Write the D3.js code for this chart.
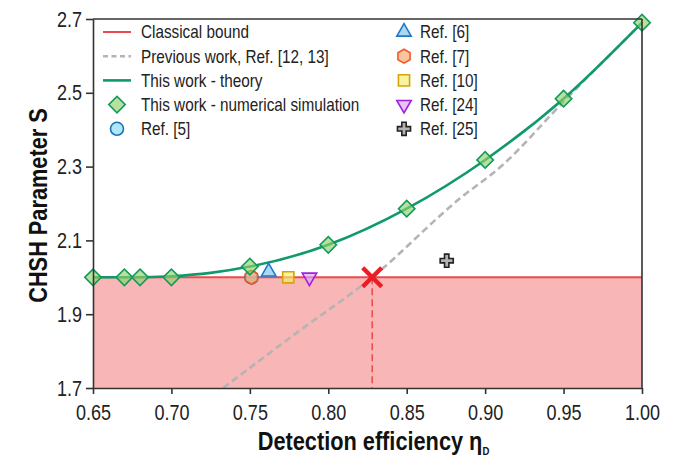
<!DOCTYPE html>
<html>
<head>
<meta charset="utf-8">
<script src="https://cdn.jsdelivr.net/npm/d3@7"></script>
<style>
  body { margin: 0; background: #fff; }
  text { font-family: 'Liberation Sans', Arial, sans-serif; }
</style>
</head>
<body>
<script>
// values
const xTicks = [0.65, 0.70, 0.75, 0.80, 0.85, 0.90, 0.95, 1.00];
const yTicks = [1.7, 1.9, 2.1, 2.3, 2.5, 2.7];

const classicalBound = 2.0;
const thresholdEta = 0.828;

const theoryEta = [0.65, 0.675, 0.70, 0.725, 0.75, 0.80, 0.85, 0.90, 0.95, 1.00];
const theoryS   = [2.0, 2.0, 2.003, 2.012, 2.029, 2.088, 2.186, 2.318, 2.484, 2.69];

const simEta = [0.65, 0.67, 0.68, 0.70, 0.75, 0.80, 0.85, 0.90, 0.95, 1.00];
const simS   = [2.0, 2.0, 2.0, 2.0, 2.029, 2.088, 2.186, 2.318, 2.484, 2.69];

const prevEta = [0.733, 0.78, 0.828, 0.884, 0.91, 0.95, 1.00];
const prevS   = [1.70, 1.85, 2.0, 2.214, 2.30, 2.476, 2.69];

const refNames = ["Ref. [5]", "Ref. [6]", "Ref. [7]", "Ref. [10]", "Ref. [24]", "Ref. [25]"];
const refEta   = [0.751, 0.762, 0.751, 0.7745, 0.788, 0.8755];
const refS     = [2.0, 2.015, 2.0, 2.0, 2.0, 2.045];

const size_graph = {x: 676, y: 460},
      margin = {top: 19, bot: 72, right: 34, left: 93 },
      width = size_graph.x - margin.left - margin.right,
      height = size_graph.y - margin.top - margin.bot;

// no condensed face installed, so squeeze the glyphs horizontally
const condTick = 0.82, condLeg = 0.85, condTitle = 0.87;

const x = d3.scaleLinear().domain([0.65, 1.0]).range([0, width]);
const y = d3.scaleLinear().domain([1.7, 2.7]).range([height, 0]);

const svg = d3.select("body").append("svg")
  .attr("width", size_graph.x)
  .attr("height", size_graph.y);

const g = svg.append("g").attr("transform", `translate(${margin.left},${margin.top})`);

g.append("clipPath").attr("id", "clip")
  .append("rect").attr("width", width).attr("height", height);

const plot = g.append("g").attr("clip-path", "url(#clip)");

// classical region
plot.append("rect")
  .attr("x", 0).attr("y", y(classicalBound))
  .attr("width", width).attr("height", y(1.7) - y(classicalBound))
  .style("fill", "#f9b6b6");

plot.append("line")
  .attr("x1", 0).attr("x2", width)
  .attr("y1", y(classicalBound)).attr("y2", y(classicalBound))
  .style("stroke", "#ea4a50").style("stroke-width", 2);

// threshold marker
plot.append("line")
  .attr("x1", x(thresholdEta)).attr("x2", x(thresholdEta))
  .attr("y1", y(classicalBound)).attr("y2", y(1.7))
  .style("stroke", "#ec4a4a").style("stroke-width", 1.5)
  .style("stroke-dasharray", "7,4");

const line = d3.line().x(d => x(d[0])).y(d => y(d[1])).curve(d3.curveMonotoneX);

plot.append("path")
  .datum(prevEta.map((e, i) => [e, prevS[i]]))
  .attr("d", line)
  .style("fill", "none").style("stroke", "#b4b4b4")
  .style("stroke-width", 2.6).style("stroke-dasharray", "7,4");

plot.append("path")
  .datum(theoryEta.map((e, i) => [e, theoryS[i]]))
  .attr("d", line)
  .style("fill", "none").style("stroke", "#0f9a6c")
  .style("stroke-width", 2.6);

// marker shapes
const hexPath = function (r) {
  let pts = d3.range(6).map(k => {
    let a = Math.PI / 2 + k * Math.PI / 3;
    return [r * Math.cos(a), -r * Math.sin(a)];
  });
  return "M" + pts.join("L") + "Z";
};

const styles = {
  sim:   {fill: "#8fd16a", stroke: "#12995c"},
  r5:    {fill: "#7fdcf7", stroke: "#1f6fb3"},
  r6:    {fill: "#7cc1ee", stroke: "#1f78c8"},
  r7:    {fill: "#f9a46a", stroke: "#f05a28"},
  r10:   {fill: "#f3ec6a", stroke: "#d4a40a"},
  r24:   {fill: "#d8a6f2", stroke: "#a020e0"},
  r25:   {fill: "#8a8a8a", stroke: "#222222"}
};

const drawMarker = function (sel, kind, cx, cy) {
  let st = styles[kind];
  let p;
  if (kind === "sim")
    p = sel.append("path").attr("d", d3.symbol(d3.symbolSquare, 135)())
      .attr("transform", `translate(${cx},${cy}) rotate(45)`);
  else if (kind === "r5")
    p = sel.append("circle").attr("cx", cx).attr("cy", cy).attr("r", 6.5);
  else if (kind === "r6")
    p = sel.append("path").attr("d", d3.symbol(d3.symbolTriangle, 90)())
      .attr("transform", `translate(${cx},${cy})`);
  else if (kind === "r7")
    p = sel.append("path").attr("d", hexPath(7))
      .attr("transform", `translate(${cx},${cy})`);
  else if (kind === "r10")
    p = sel.append("path").attr("d", d3.symbol(d3.symbolSquare, 125)())
      .attr("transform", `translate(${cx},${cy})`);
  else if (kind === "r24")
    p = sel.append("path").attr("d", d3.symbol(d3.symbolTriangle, 90)())
      .attr("transform", `translate(${cx},${cy}) rotate(180)`);
  else
    p = sel.append("path").attr("d", d3.symbol(d3.symbolCross, 95)())
      .attr("transform", `translate(${cx},${cy})`);
  p.style("fill", st.fill).style("fill-opacity", 0.65)
    .style("stroke", st.stroke).style("stroke-width", 1.6);
  return p;
};

const refKinds = ["r5", "r6", "r7", "r10", "r24", "r25"];

const marks = g.append("g");
refKinds.forEach((k, i) => drawMarker(marks, k, x(refEta[i]), y(refS[i])));
simEta.forEach((e, i) => drawMarker(marks, "sim", x(e), y(simS[i])));

// red cross at threshold
const cx = x(thresholdEta), cy = y(classicalBound);
g.append("path")
  .attr("d", `M${cx - 9.5},${cy - 9.5}L${cx + 9.5},${cy + 9.5}M${cx - 9.5},${cy + 9.5}L${cx + 9.5},${cy - 9.5}`)
  .style("stroke", "#ec1c24").style("stroke-width", 4.4).style("fill", "none");

// axes
const xAxis = d3.axisBottom(x).tickValues(xTicks).tickFormat(d3.format(".2f")).tickSize(6).tickSizeOuter(0);
const yAxis = d3.axisLeft(y).tickValues(yTicks).tickFormat(d3.format(".1f")).tickSize(7).tickSizeOuter(0);

const gx = g.append("g").attr("transform", `translate(0,${height})`).call(xAxis);
const gy = g.append("g").call(yAxis);

[gx, gy].forEach(a => {
  a.selectAll("path, line").style("stroke", "#333").style("stroke-width", 1.6);
  a.selectAll("text").style("font-size", "22px").style("fill", "#222")
    .attr("transform", `scale(${condTick},1)`);
});
gx.selectAll("text").attr("y", 16);
gy.selectAll("text").attr("x", -11 / condTick);

// frame top / right
g.append("line").attr("x1", 0).attr("x2", width).attr("y1", 0).attr("y2", 0)
  .style("stroke", "#333").style("stroke-width", 1.6);
g.append("line").attr("x1", width).attr("x2", width).attr("y1", 0).attr("y2", height)
  .style("stroke", "#333").style("stroke-width", 1.6);

// axis titles
const xt = svg.append("text")
  .attr("transform", `translate(${margin.left + width / 2 + 6},450) scale(${condTitle},1)`)
  .attr("text-anchor", "middle")
  .style("font-size", "25px").style("font-weight", "bold").style("fill", "#111");
xt.append("tspan").text("Detection efficiency η");
xt.append("tspan").text("D").attr("dy", 5).style("font-size", "11px");

svg.append("text")
  .attr("transform", `translate(47,${margin.top + height / 2 + 2}) rotate(-90) scale(${condTitle},1)`)
  .attr("text-anchor", "middle")
  .style("font-size", "25px").style("font-weight", "bold").style("fill", "#111")
  .text("CHSH Parameter S");

// legend
const leg = svg.append("g");
const rowY = i => 32 + 24.2 * i;
const leftItems = ["Classical bound", "Previous work, Ref. [12, 13]", "This work - theory",
  "This work - numerical simulation", refNames[0]];

leg.append("line").attr("x1", 103).attr("x2", 131).attr("y1", rowY(0)).attr("y2", rowY(0))
  .style("stroke", "#ea4a50").style("stroke-width", 2);
leg.append("line").attr("x1", 103).attr("x2", 131).attr("y1", rowY(1)).attr("y2", rowY(1))
  .style("stroke", "#b4b4b4").style("stroke-width", 2.6).style("stroke-dasharray", "5,3.5");
leg.append("line").attr("x1", 103).attr("x2", 131).attr("y1", rowY(2)).attr("y2", rowY(2))
  .style("stroke", "#0f9a6c").style("stroke-width", 2.6);
drawMarker(leg, "sim", 117, rowY(3));
drawMarker(leg, "r5", 117, rowY(4));

let legText = function (tx, ty, t) {
  leg.append("text")
    .attr("transform", `translate(${tx},${ty}) scale(${condLeg},1)`)
    .attr("dy", "0.35em")
    .style("font-size", "18px").style("fill", "#222").text(t);
};

leftItems.forEach((t, i) => legText(141, rowY(i), t));

refKinds.slice(1).forEach((k, i) => {
  drawMarker(leg, k, 404, rowY(i));
  legText(420, rowY(i), refNames[i + 1]);
});
</script>
</body>
</html>
